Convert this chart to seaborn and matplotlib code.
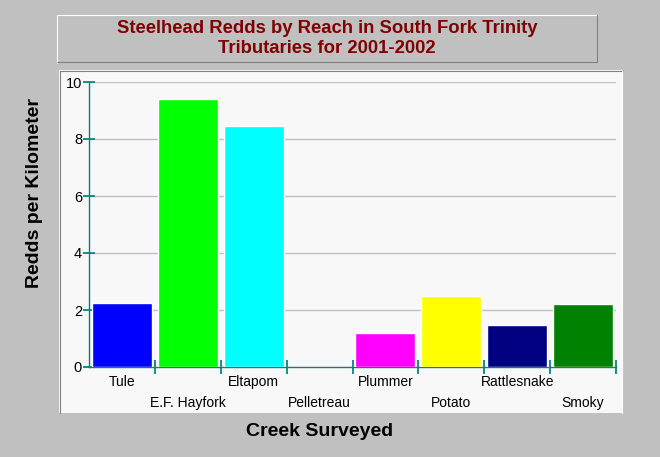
import pandas as pd
import seaborn as sns
import matplotlib.pyplot as plt
from matplotlib.patches import Rectangle
from matplotlib.lines import Line2D

# data
creeks = ['Tule', 'E.F. Hayfork', 'Eltapom', 'Pelletreau', 'Plummer',
          'Potato', 'Rattlesnake', 'Smoky']
redds_per_km = [2.25, 9.40, 8.46, 0.0, 1.18, 2.50, 1.47, 2.20]
bar_colors = ['#0000ff', '#00ff00', '#00ffff', '#ff00ff', '#ff00ff',
              '#ffff00', '#000080', '#008000']

df = pd.DataFrame({'Creek': creeks, 'Redds': redds_per_km})

sns.set_theme(style='white')
plt.rcParams['font.family'] = ['Liberation Sans', 'DejaVu Sans']

fig = plt.figure(figsize=(6.6, 4.57), dpi=100)
fig.patch.set_facecolor('#c0c0c0')

W, H = 660, 457
def box(x0, y0, x1, y1, **kw):
    # pixel box (top-left origin) -> figure rectangle
    return Rectangle((x0 / W, 1 - y1 / H), (x1 - x0) / W, (y1 - y0) / H,
                     transform=fig.transFigure, zorder=-5, **kw)

def edge(xs, ys, color):
    fig.lines.append(Line2D([x / W for x in xs], [1 - y / H for y in ys],
                            transform=fig.transFigure, color=color, lw=0.8, zorder=-4))

# light panel behind the plot, sunken edges
fig.patches.append(box(59, 70, 622, 413, facecolor='#f8f8f8', edgecolor='none'))
edge([59.5, 59.5, 622], [413, 70.5, 70.5], '#808080')
edge([621.5, 621.5], [70.5, 413], '#ffffff')

# raised title box
fig.patches.append(box(56, 14, 597, 63, facecolor='#c0c0c0', edgecolor='none'))
edge([56.5, 56.5, 597], [63, 14.5, 14.5], '#ffffff')
edge([56.5, 596.5, 596.5], [62.5, 62.5, 14.5], '#808080')
fig.text(327 / W, 1 - 38.5 / H, 'Steelhead Redds by Reach in South Fork Trinity\nTributaries for 2001-2002',
         ha='center', va='center', color='#800000', fontsize=13.3, fontweight='bold',
         linespacing=1.2)

ax = fig.add_axes([89 / W, 1 - 367 / H, (616 - 89) / W, (367 - 82) / H])
ax.set_facecolor('#f8f8f8')

sns.barplot(data=df, x='Creek', y='Redds', hue='Creek', palette=bar_colors,
            width=0.91, legend=False, ax=ax, saturation=1, zorder=3)

ax.set_ylim(0, 10)
ax.set_xlim(-0.5, len(creeks) - 0.5)
ax.set_yticks([0, 2, 4, 6, 8, 10])
ax.yaxis.grid(True, color='#c0c0c0', lw=1, zorder=0)
ax.set_axisbelow(True)

teal = '#008080'
for s in ['top', 'right']:
    ax.spines[s].set_visible(False)
for s in ['left', 'bottom']:
    ax.spines[s].set_color(teal)
    ax.spines[s].set_linewidth(1)

ax.tick_params(axis='y', direction='inout', length=8, color=teal, labelsize=10.5,
               labelcolor='black', left=True, pad=1)

# x ticks sit at the boundaries between categories
ax.set_xticks([i + 0.5 for i in range(len(creeks))])
ax.set_xticklabels([])
ax.tick_params(axis='x', direction='inout', length=10, color=teal, bottom=True)
for i, name in enumerate(creeks):
    off = 15 if i % 2 == 0 else 36
    ax.annotate(name, (i, 0), xycoords=('data', 'axes fraction'),
                xytext=(0, -off), textcoords='offset pixels',
                ha='center', va='center', fontsize=10, color='black')

ax.set_xlabel('')
ax.set_ylabel('')
fig.text(35 / W, 1 - 193 / H, 'Redds per Kilometer', rotation=90, ha='center', va='center',
         fontsize=14, fontweight='bold', color='black')
fig.text(320 / W, 1 - 432 / H, 'Creek Surveyed', ha='center', va='center',
         fontsize=14, fontweight='bold', color='black')

plt.savefig('out.png', dpi=100, facecolor=fig.get_facecolor())
